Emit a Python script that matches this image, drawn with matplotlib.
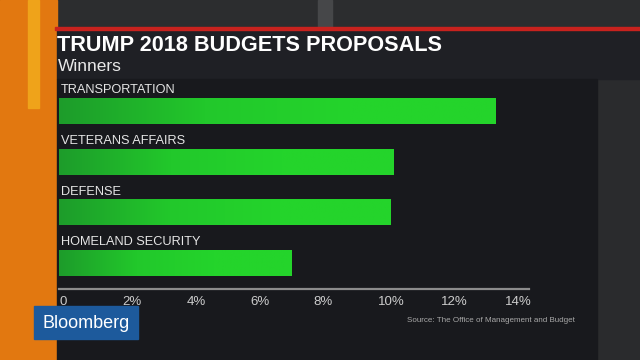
#!/usr/bin/env python3
"""Trump 2018 budget proposals - winners (Bloomberg TV style)"""

import matplotlib
matplotlib.use("Agg")
import matplotlib.pyplot as plt
import numpy as np
from matplotlib.colors import LinearSegmentedColormap
from matplotlib.patches import Rectangle

plt.rcParams["font.family"] = ["Liberation Sans", "DejaVu Sans"]

departments = ["TRANSPORTATION", "VETERANS AFFAIRS", "DEFENSE", "HOMELAND SECURITY"]
increase_pct = [13.7, 10.5, 10.4, 7.3]
tick_values = [0, 2, 4, 6, 8, 10, 12, 14]
tick_labels = ["0", "2%", "4%", "6%", "8%", "10%", "12%", "14%"]

W, H = 640, 360
fig = plt.figure(figsize=(6.4, 3.6), dpi=100)
fig.patch.set_facecolor("#2a2b2d")

# background decoration in pixel coordinates
bg = fig.add_axes([0, 0, 1, 1])
bg.set_xlim(0, W)
bg.set_ylim(H, 0)
bg.axis("off")
bg.add_patch(Rectangle((0, 0), W, 28, color="#2c2d2f"))
bg.add_patch(Rectangle((318, 0), 14, 28, color="#464749"))
bg.add_patch(Rectangle((0, 0), 57, H, color="#e27810"))
bg.add_patch(Rectangle((28, 0), 11, H * 0.3, color="#efa31a"))
bg.add_patch(Rectangle((57, 28), W - 57, 51, color="#1f2025"))
bg.add_patch(Rectangle((57, 79), 540, H - 79, color="#18191d"))
bg.add_patch(Rectangle((55, 27), W - 55, 2.5, color="#c8221e"))
bg.text(57, 45.5, "TRUMP 2018 BUDGETS PROPOSALS", color="white", fontsize=15.6,
        fontweight="bold", va="center", ha="left")
bg.text(58, 66.5, "Winners", color="#e8e8e8", fontsize=12.5, va="center", ha="left")
bg.text(575, 320, "Source: The Office of Management and Budget", color="#a8a8a8",
        fontsize=5.8, va="center", ha="right")

# chart axes: x from 59 px to 529 px, y from 85 px to 289 px
left, right, top, bottom = 59, 529, 85, 289
ax = fig.add_axes([left / W, 1 - bottom / H, (right - left) / W, (bottom - top) / H])
ax.set_facecolor("none")
ypos = np.arange(len(departments))
bars = ax.barh(ypos, increase_pct, height=0.51, color="#22c42a")

green = LinearSegmentedColormap.from_list("g", ["#1d9c2a", "#22c82b", "#24d42b", "#24d42b"])
grad = np.linspace(0, 1, 256).reshape(1, -1)
for bar in bars:
    x0, y0 = bar.get_x(), bar.get_y()
    im = ax.imshow(grad, extent=[x0, x0 + bar.get_width(), y0, y0 + bar.get_height()],
                   aspect="auto", cmap=green, zorder=3)
    im.set_clip_path(bar)

for y, name in zip(ypos, departments):
    ax.text(0.05, y - 0.29, name, color="#e6e6e6", fontsize=9.2, va="bottom", ha="left")

xmax = (right - left) / ((505 - left) / 14)
ax.set_xlim(0, xmax)
ax.set_ylim(len(departments) - 0.49, -0.51)
ax.set_yticks([])
ax.set_xticks(tick_values)
ax.set_xticklabels(tick_labels, color="#cccccc", fontsize=9.5, ha="left")
ax.tick_params(axis="x", length=0, pad=5)
for s in ["top", "right", "left"]:
    ax.spines[s].set_visible(False)
ax.spines["bottom"].set_color("#8c8c8c")
ax.spines["bottom"].set_linewidth(1.6)

# Bloomberg logo box, in front of the chart
logo = fig.add_axes([0, 0, 1, 1])
logo.set_xlim(0, W)
logo.set_ylim(H, 0)
logo.axis("off")
logo.add_patch(Rectangle((34, 306), 104, 33, color="#1d5a9c"))
logo.text(86, 323, "Bloomberg", color="white", fontsize=13, va="center", ha="center")

fig.savefig("out.png", dpi=100, facecolor=fig.get_facecolor())
plt.close(fig)
